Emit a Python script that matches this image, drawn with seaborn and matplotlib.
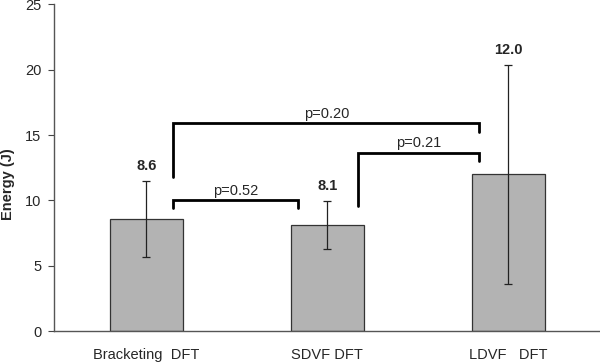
import matplotlib
matplotlib.use("Agg")
import matplotlib.pyplot as plt
import seaborn as sns
import pandas as pd

# data
groups = ["Bracketing  DFT", "SDVF DFT", "LDVF   DFT"]
energy = [8.6, 8.1, 12.0]
err_hi = [2.9, 1.85, 8.35]
err_lo = [2.9, 1.85, 8.4]

# comparison brackets: (x left, x right, height, left drop, right drop, label)
bracket_x1 = [0.15, 0.15, 1.17]
bracket_x2 = [0.84, 1.84, 1.84]
bracket_y = [10.0, 15.9, 13.65]
bracket_ylo1 = [9.4, 11.8, 9.6]
bracket_ylo2 = [9.4, 15.2, 13.0]
bracket_txt = ["p=0.52", "p=0.20", "p=0.21"]

sns.set_style("white")
plt.rcParams['font.family'] = ['Liberation Sans', 'DejaVu Sans']

df = pd.DataFrame({"group": groups, "energy": energy})

fig = plt.figure(figsize=(6, 3.62), dpi=100)
ax = fig.add_axes([0.09, 0.0856, 0.91, 0.902])

sns.barplot(data=df, x="group", y="energy", color="#b3b3b3", width=0.4,
            edgecolor="#333333", linewidth=0.9, errorbar=None, ax=ax)
ax.errorbar(range(len(groups)), energy, yerr=[err_lo, err_hi], fmt="none",
            ecolor="#222222", elinewidth=0.9, capsize=3, capthick=0.9)

for i, v in enumerate(energy):
    ax.text(i, v + err_hi[i] + 0.6, f"{v:.1f}", ha="center", va="bottom",
            fontsize=10.5, fontweight="bold")

for x1, x2, y, l1, l2, t in zip(bracket_x1, bracket_x2, bracket_y,
                                bracket_ylo1, bracket_ylo2, bracket_txt):
    ax.plot([x1, x1, x2, x2], [l1, y, y, l2], color="black", lw=2,
            solid_joinstyle="miter")
    ax.text((x1 + x2) / 2, y + 0.2, t, ha="center", va="bottom", fontsize=10.5)

ax.set_ylim(0, 25)
ax.set_xlim(-0.51, 2.506)
ax.set_yticks([0, 5, 10, 15, 20, 25])
ax.set_xlabel("")
ax.set_ylabel("Energy (J)", fontsize=10.5, fontweight="bold",
              va="center", ha="center")
ax.yaxis.set_label_coords(-0.085, 0.45)
ax.tick_params(axis="y", left=True, length=4, width=0.8, labelsize=10.5,
               color="#444444", pad=5)
ax.tick_params(axis="x", bottom=False, labelsize=10.5, pad=9)
sns.despine(ax=ax)
for s in ["left", "bottom"]:
    ax.spines[s].set_color("#555555")
    ax.spines[s].set_linewidth(1.0)

fig.savefig("out.png", dpi=100)
